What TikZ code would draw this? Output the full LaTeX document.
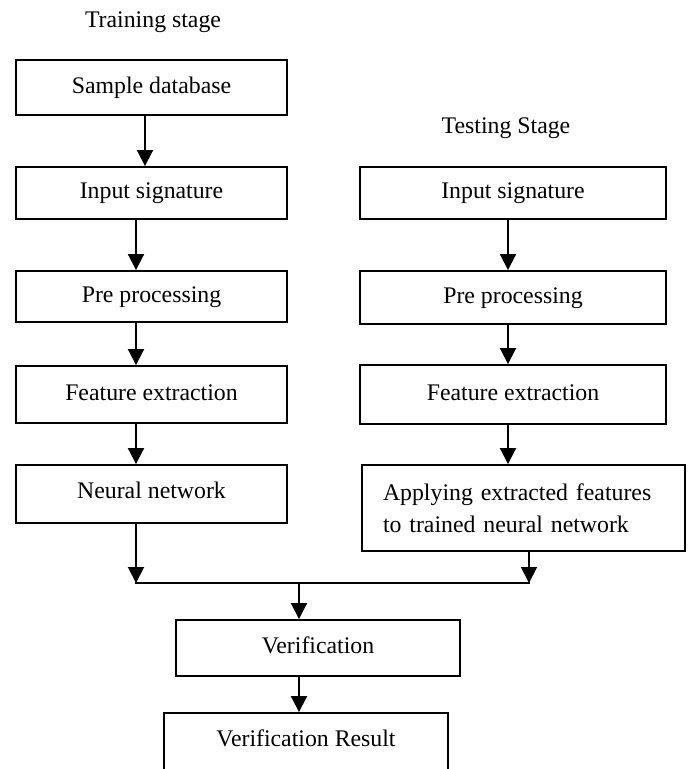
\documentclass[tikz,border=0pt]{standalone}
\usepackage{fontspec}
\setmainfont{Liberation Serif}
\usetikzlibrary{arrows.meta}
\begin{document}
\begin{tikzpicture}[x=1pt,y=-1pt,
  frame/.style={draw,line width=1.9pt,inner sep=0pt,font=\fontsize{23.8}{32}\selectfont},
  box/.style={frame,text height=16pt,text depth=5pt},
  lbl/.style={inner sep=0pt,font=\fontsize{23.8}{32}\selectfont,text height=16pt,text depth=5pt},
  arr/.style={line width=1.9pt,-{Triangle[width=16pt,length=16pt]}},
  conn/.style={line width=1.9pt}]
\useasboundingbox (0,0) rectangle (690,769);
\clip (0,0) rectangle (690,769);

% stage titles
\node[lbl] (tr) at (153,21.5) {Training stage};
\node[lbl] (ts) at (506,127.5) {Testing Stage};

% training column
\node[box,minimum width=271pt,minimum height=55pt] (sd) at (151.5,87.5) {Sample database};
\node[box,minimum width=271pt,minimum height=52pt] (is1) at (151.5,193) {Input signature};
\node[box,minimum width=271pt,minimum height=51pt] (pp1) at (151.5,296.5) {Pre processing};
\node[box,minimum width=271pt,minimum height=57pt] (fe1) at (151.5,394.5) {Feature extraction};
\node[box,minimum width=271pt,minimum height=58pt,text depth=8pt] (nn) at (151.5,494) {Neural network};

% testing column
\node[box,minimum width=306pt,minimum height=52pt] (is2) at (513,193) {Input signature};
\node[box,minimum width=306pt,minimum height=53pt] (pp2) at (513,297.5) {Pre processing};
\node[box,minimum width=306pt,minimum height=59pt] (fe2) at (513,394.5) {Feature extraction};
\node[frame,minimum width=323pt,minimum height=86pt,text width=281pt,align=left] (ap) at (523.5,508)
  {Applying extracted features\\to trained neural network};

% verification
\node[box,minimum width=284pt,minimum height=56pt] (ver) at (318,648) {Verification};
\node[box,minimum width=284pt,minimum height=76pt,text depth=25pt] (vr) at (306,751) {Verification Result};

% connector helpers
\coordinate (jy) at (0,583);
\coordinate (a1) at ([xshift=-6.5pt]sd.south);
\coordinate (a2) at ([xshift=-15.5pt]is1.south);
\coordinate (a3) at ([xshift=-15.5pt]pp1.south);
\coordinate (a4) at ([xshift=-15.5pt]fe1.south);
\coordinate (a5) at ([xshift=-15.5pt]nn.south);
\coordinate (b1) at ([xshift=-5pt]is2.south);
\coordinate (b2) at ([xshift=-5pt]pp2.south);
\coordinate (b3) at ([xshift=-5pt]fe2.south);
\coordinate (b4) at ([xshift=5.5pt]ap.south);
\coordinate (jl) at (a5 |- jy);
\coordinate (jr) at (b4 |- jy);
\coordinate (vt) at ([xshift=-19pt]ver.north);
\coordinate (vb) at ([xshift=-19pt]ver.south);
\coordinate (jm) at (vt |- jy);

% training arrows
\draw[arr] (a1) -- (a1 |- is1.north);
\draw[arr] (a2) -- (a2 |- pp1.north);
\draw[arr] (a3) -- (a3 |- fe1.north);
\draw[arr] (a4) -- (a4 |- nn.north);
\draw[arr] (a5) -- (jl);

% testing arrows
\draw[arr] (b1) -- (b1 |- pp2.north);
\draw[arr] (b2) -- (b2 |- fe2.north);
\draw[arr] (b3) -- (b3 |- ap.north);
\draw[arr] (b4) -- (jr);

% merge
\draw[conn] ([xshift=-0.95pt]jl) -- ([xshift=0.95pt]jr);
\draw[arr] (jm) -- (vt);
\draw[arr] (vb) -- (vb |- vr.north);
\end{tikzpicture}
\end{document}
